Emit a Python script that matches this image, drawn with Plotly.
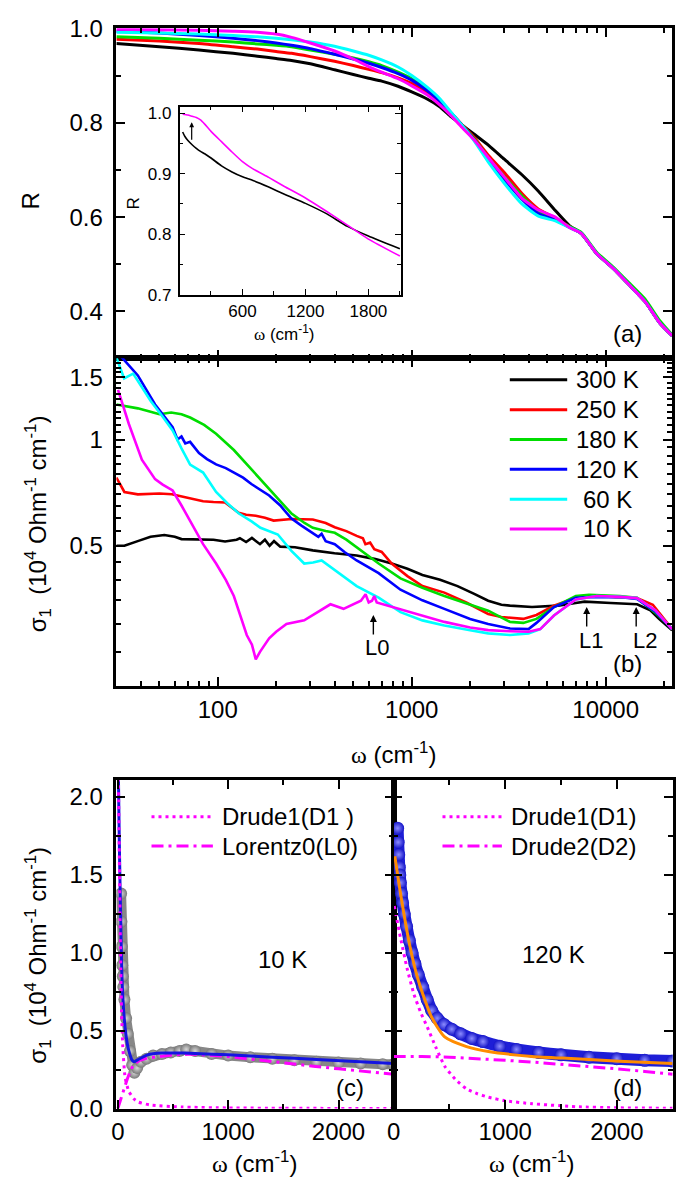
import numpy as np
import plotly.graph_objects as go

FONT = "Liberation Sans"
W, H = 683, 1192

# ---------------- (a) reflectivity, common frequency grid (cm^-1) ----------------
w_R = [30, 50, 80, 120, 160, 200, 240, 300, 400, 500, 600, 700, 850, 1000, 1200, 1400,
       1600, 1800, 2100, 2500, 3000, 3700, 4500, 5500, 6500, 7500, 9000, 11000, 13500,
       16000, 19000, 22000]
R_300 = [0.969, 0.962, 0.955, 0.948, 0.942, 0.937, 0.933, 0.926, 0.913, 0.903, 0.895, 0.889,
         0.878, 0.866, 0.851, 0.834, 0.813, 0.797, 0.776, 0.752, 0.723, 0.69, 0.655, 0.614,
         0.582, 0.565, 0.522, 0.49, 0.452, 0.42, 0.375, 0.348]
R_250 = [0.978, 0.974, 0.969, 0.962, 0.957, 0.952, 0.948, 0.941, 0.931, 0.922, 0.914, 0.907,
         0.896, 0.884, 0.865, 0.843, 0.82, 0.798, 0.769, 0.73, 0.695, 0.65, 0.617, 0.598,
         0.58, 0.565, 0.522, 0.49, 0.452, 0.42, 0.375, 0.348]
R_180 = [0.983, 0.98, 0.976, 0.972, 0.968, 0.965, 0.962, 0.955, 0.946, 0.938, 0.93, 0.922,
         0.908, 0.894, 0.872, 0.846, 0.82, 0.797, 0.766, 0.724, 0.686, 0.645, 0.613, 0.596,
         0.58, 0.567, 0.525, 0.493, 0.456, 0.425, 0.38, 0.35]
R_120 = [0.995, 0.991, 0.986, 0.98, 0.975, 0.97, 0.965, 0.958, 0.946, 0.936, 0.927, 0.918,
         0.905, 0.891, 0.869, 0.846, 0.821, 0.797, 0.764, 0.72, 0.68, 0.638, 0.607, 0.594,
         0.578, 0.565, 0.522, 0.49, 0.452, 0.42, 0.375, 0.348]
R_60 = [0.993, 0.991, 0.989, 0.986, 0.983, 0.98, 0.977, 0.972, 0.963, 0.953, 0.944, 0.934,
        0.919, 0.901, 0.876, 0.851, 0.822, 0.797, 0.762, 0.715, 0.672, 0.628, 0.602, 0.592,
        0.578, 0.565, 0.522, 0.49, 0.452, 0.42, 0.375, 0.348]
R_10 = [0.999, 0.998, 0.997, 0.995, 0.993, 0.989, 0.982, 0.970, 0.953, 0.936, 0.920, 0.908,
        0.894, 0.879, 0.860, 0.838, 0.815, 0.792, 0.764, 0.725, 0.685, 0.64, 0.615, 0.60,
        0.578, 0.565, 0.522, 0.49, 0.452, 0.42, 0.375, 0.348]
INSET_MAX = 2100  # the inset shows the low-frequency part of 300 K and 10 K

# ---------------- (b) optical conductivity sigma_1 (10^4 Ohm^-1 cm^-1) ----------------
w_300 = [30, 33, 39, 45, 53, 60, 65, 80, 95, 109, 125, 130, 140, 150, 165, 175, 185, 195, 210,
         250, 309, 400, 520, 650, 788, 950, 1135, 1400, 1722, 2100, 2478, 2900, 3213, 4170,
         5690, 7000, 7780, 10620, 14520, 17000, 18830, 22000]
s_300 = [0.50, 0.50, 0.516, 0.53, 0.536, 0.53, 0.522, 0.52, 0.52, 0.514, 0.52, 0.525, 0.512,
         0.526, 0.505, 0.52, 0.50, 0.515, 0.497, 0.495, 0.485, 0.476, 0.469, 0.458, 0.445,
         0.43, 0.413, 0.40, 0.384, 0.365, 0.349, 0.34, 0.338, 0.335, 0.338, 0.344, 0.347,
         0.344, 0.341, 0.328, 0.31, 0.288]
w_250 = [30, 33, 38.7, 45, 50, 58, 65, 75, 84, 95, 109, 128, 140, 157, 175, 194, 240, 309,
         360, 401, 460, 520, 560, 577, 610, 641, 700, 788, 950, 1135, 1473, 1909, 2478, 2897,
         3760, 4395, 5410, 7013, 8500, 11000, 14500, 17500, 20000, 22000]
s_250 = [0.78, 0.71, 0.699, 0.70, 0.703, 0.70, 0.69, 0.675, 0.668, 0.665, 0.663, 0.62, 0.612,
         0.608, 0.60, 0.589, 0.595, 0.593, 0.58, 0.564, 0.55, 0.533, 0.525, 0.505, 0.51,
         0.489, 0.48, 0.445, 0.41, 0.384, 0.368, 0.345, 0.32, 0.314, 0.31, 0.318, 0.338,
         0.356, 0.36, 0.358, 0.355, 0.34, 0.31, 0.29]
w_180 = [30, 38.7, 45, 50, 57.5, 65, 72, 85, 98, 121, 150, 184, 210, 239, 280, 309, 360, 401,
         460, 520, 600, 675, 875, 1135, 1473, 2000, 2478, 3213, 3760, 4395, 5410, 7013, 8200,
         11800, 14500, 17870, 22000]
s_180 = [1.257, 1.226, 1.20, 1.18, 1.193, 1.18, 1.155, 1.10, 1.039, 0.934, 0.82, 0.724, 0.665,
         0.618, 0.58, 0.562, 0.55, 0.544, 0.52, 0.494, 0.468, 0.445, 0.404, 0.38, 0.36, 0.34,
         0.327, 0.304, 0.302, 0.31, 0.335, 0.36, 0.363, 0.36, 0.356, 0.324, 0.291]
w_120 = [30, 32, 38.7, 47.5, 58.5, 62, 65, 68, 72, 76, 80, 88, 98, 110, 121, 135, 149, 165,
         184, 210, 239, 270, 309, 330, 343, 360, 401, 450, 520, 600, 675, 875, 1135, 1473,
         2000, 2478, 3213, 4000, 4395, 5410, 7013, 9000, 12000, 14500, 18000, 22000]
s_120 = [1.75, 1.71, 1.52, 1.257, 1.084, 1.0, 1.02, 0.975, 0.985, 0.95, 0.915, 0.88, 0.85,
         0.83, 0.806, 0.78, 0.748, 0.72, 0.694, 0.65, 0.598, 0.57, 0.544, 0.53, 0.54, 0.515,
         0.505, 0.48, 0.454, 0.435, 0.418, 0.375, 0.35, 0.331, 0.31, 0.30, 0.291, 0.29, 0.302,
         0.335, 0.356, 0.358, 0.357, 0.353, 0.325, 0.29]
w_60 = [30, 32.9, 36.6, 45.2, 52, 58.5, 65, 72, 84, 98, 112, 128, 150, 166, 204, 239, 279,
        310, 343, 401, 520, 675, 875, 1135, 1473, 2000, 2478, 3213, 4000, 4600, 5410, 7013,
        9000, 12000, 14500, 18000, 22000]
s_60 = [1.71, 1.49, 1.538, 1.284, 1.16, 1.061, 0.944, 0.849, 0.806, 0.71, 0.66, 0.618, 0.585,
        0.562, 0.538, 0.484, 0.445, 0.448, 0.454, 0.426, 0.384, 0.356, 0.324, 0.307, 0.297,
        0.288, 0.282, 0.279, 0.282, 0.29, 0.317, 0.352, 0.36, 0.358, 0.355, 0.328, 0.29]
w_10 = [30.6, 34.8, 40.6, 47.5, 52, 58.5, 65, 72, 84, 98, 110, 121, 132, 141, 150, 157, 165,
        184, 200, 226, 279, 330, 381, 445, 500, 547, 578, 600, 624, 641, 660, 709, 875, 1135,
        1473, 2000, 2478, 3213, 4000, 4600, 5410, 7013, 9000, 12000, 14500, 18000, 22000]
s_10 = [1.383, 1.107, 0.877, 0.772, 0.745, 0.717, 0.65, 0.586, 0.505, 0.445, 0.40, 0.36, 0.31,
        0.279, 0.262, 0.238, 0.25, 0.273, 0.285, 0.30, 0.307, 0.325, 0.341, 0.331, 0.342,
        0.349, 0.364, 0.345, 0.349, 0.36, 0.345, 0.341, 0.331, 0.317, 0.304, 0.293, 0.288,
        0.286, 0.285, 0.29, 0.317, 0.352, 0.36, 0.358, 0.355, 0.328, 0.29]

# peak markers: (label, frequency, arrow tip sigma)
peaks = [("L0", 634, 0.318), ("L1", 7980, 0.335), ("L2", 14360, 0.335)]

# ---------------- (c) 10 K data and fit components ----------------
c_w = [30, 33, 36, 40, 45, 50, 60, 75, 90, 110, 130, 150, 175, 210, 260, 320, 400, 480, 560,
       620, 700, 850, 1000, 1200, 1400, 1600, 1800, 2000, 2200, 2400, 2500]
c_s = [1.38, 1.2, 1.04, 0.92, 0.85, 0.78, 0.70, 0.58, 0.48, 0.37, 0.28, 0.23, 0.26, 0.30, 0.32,
       0.34, 0.35, 0.36, 0.37, 0.38, 0.37, 0.35, 0.34, 0.33, 0.32, 0.31, 0.30, 0.295, 0.29,
       0.285, 0.285]
c_fit_w = [3, 8, 14, 20, 27, 34, 45, 66, 85, 106, 130, 150, 185, 270, 400, 600, 1000, 1400,
           1800, 2500]
c_fit_s = [2.3, 2.0, 1.7, 1.45, 1.2, 0.94, 0.72, 0.52, 0.42, 0.356, 0.31, 0.30, 0.315, 0.345,
           0.356, 0.356, 0.345, 0.33, 0.315, 0.29]
c_d1_w = [3, 8, 14, 20, 27, 34, 45, 66, 100, 150, 185, 300, 580, 1000, 1500, 2500]
c_d1_s = [2.3, 1.95, 1.6, 1.25, 0.9, 0.62, 0.4, 0.2, 0.11, 0.06, 0.042, 0.022, 0.01, 0.004,
          0.002, 0.0]
c_l0_w = [0, 27, 60, 86, 115, 145, 200, 270, 383, 500, 661, 800, 978, 1200, 1375, 1600, 1771,
          2000, 2200, 2500]
c_l0_s = [0.0, 0.063, 0.14, 0.19, 0.245, 0.285, 0.31, 0.325, 0.335, 0.345, 0.35, 0.345, 0.335,
          0.318, 0.303, 0.288, 0.272, 0.255, 0.24, 0.22]

# ---------------- (d) 120 K data and fit components ----------------
d_w = [35, 40, 45, 50, 55, 60, 70, 80, 95, 115, 140, 165, 190, 220, 260, 300, 340, 390, 450,
       520, 600, 700, 800, 950, 1100, 1300, 1500, 1750, 2000, 2250, 2500]
d_s = [1.80, 1.71, 1.63, 1.55, 1.50, 1.45, 1.38, 1.32, 1.25, 1.17, 1.08, 1.0, 0.93, 0.86, 0.78,
       0.70, 0.63, 0.58, 0.54, 0.51, 0.48, 0.45, 0.43, 0.40, 0.38, 0.36, 0.345, 0.33, 0.32,
       0.31, 0.305]
d_fit_w = [10, 66, 144, 223, 340, 457, 653, 849, 1240, 1631, 2022, 2500]
d_fit_s = [1.62, 1.36, 1.047, 0.817, 0.586, 0.46, 0.398, 0.366, 0.335, 0.32, 0.303, 0.289]
d_d1_w = [5, 60, 120, 182, 240, 301, 380, 457, 550, 653, 750, 849, 1000, 1240, 1631, 2000, 2500]
d_d1_s = [1.3, 1.1, 0.9, 0.733, 0.62, 0.523, 0.39, 0.272, 0.19, 0.126, 0.095, 0.073, 0.05,
          0.031, 0.012, 0.005, 0.002]
d_d2_w = [0, 250, 500, 750, 1000, 1250, 1500, 1750, 2000, 2250, 2500]
d_d2_s = [0.335, 0.335, 0.33, 0.322, 0.31, 0.298, 0.285, 0.27, 0.255, 0.238, 0.22]

temps = ["300 K", "250 K", "180 K", "120 K", "60 K", "10 K"]
colors = ["#000000", "#ff0000", "#00dd00", "#0000ff", "#00ffff", "#ff00ff"]
MAG = "#ff00ff"
logx_ticks = [100, 1000, 10000]


def fx(px):
    return px / W


def fy(py):
    return 1 - py / H


fig = go.Figure()

# (a) reflectivity
for R, c in zip([R_300, R_250, R_180, R_120, R_60, R_10], colors):
    fig.add_trace(go.Scatter(x=w_R, y=R, xaxis="x", yaxis="y", mode="lines",
                             line=dict(color=c, width=3, shape="spline", smoothing=0.5)))

# inset: 300 K and 10 K below INSET_MAX on a linear axis
for R, c in [(R_300, "#000000"), (R_10, MAG)]:
    xs = [w for w in w_R if w <= INSET_MAX]
    fig.add_trace(go.Scatter(x=xs, y=R[:len(xs)], xaxis="x3", yaxis="y3", mode="lines",
                             line=dict(color=c, width=1.6, shape="spline", smoothing=0.5)))

# (b) conductivity
for (w, s), c in zip([(w_300, s_300), (w_250, s_250), (w_180, s_180), (w_120, s_120),
                      (w_60, s_60), (w_10, s_10)], colors):
    fig.add_trace(go.Scatter(x=w, y=s, xaxis="x2", yaxis="y2", mode="lines",
                             line=dict(color=c, width=2.6)))

# (c) 10 K
fig.add_trace(go.Scatter(x=c_w, y=c_s, xaxis="x4", yaxis="y4", mode="lines+markers",
                         line=dict(color="rgb(135,135,135)", width=10),
                         marker=dict(size=12, color="rgb(120,120,120)",
                                     gradient=dict(type="radial", color="rgb(215,215,215)"))))
fig.add_trace(go.Scatter(x=c_l0_w, y=c_l0_s, xaxis="x4", yaxis="y4", mode="lines",
                         line=dict(color=MAG, width=3, dash="12px,5px,3px,5px")))
fig.add_trace(go.Scatter(x=c_fit_w, y=c_fit_s, xaxis="x4", yaxis="y4", mode="lines",
                         line=dict(color="rgb(20,20,225)", width=3, shape="spline", smoothing=0.5)))
fig.add_trace(go.Scatter(x=c_d1_w, y=c_d1_s, xaxis="x4", yaxis="y4", mode="lines",
                         line=dict(color=MAG, width=3, dash="3px,4px", shape="spline", smoothing=0.5)))

# (d) 120 K
fig.add_trace(go.Scatter(x=d_w, y=d_s, xaxis="x5", yaxis="y5", mode="lines+markers",
                         line=dict(color="rgb(30,30,215)", width=12, shape="spline", smoothing=0.5),
                         marker=dict(size=13, color="rgb(20,20,200)",
                                     gradient=dict(type="radial", color="rgb(140,140,255)"))))
fig.add_trace(go.Scatter(x=d_d1_w, y=d_d1_s, xaxis="x5", yaxis="y5", mode="lines",
                         line=dict(color=MAG, width=3, dash="3px,4px", shape="spline", smoothing=0.5)))
fig.add_trace(go.Scatter(x=d_d2_w, y=d_d2_s, xaxis="x5", yaxis="y5", mode="lines",
                         line=dict(color=MAG, width=3, dash="12px,5px,3px,5px")))
fig.add_trace(go.Scatter(x=d_fit_w, y=d_fit_s, xaxis="x5", yaxis="y5", mode="lines",
                         line=dict(color="rgb(255,140,0)", width=3, shape="spline", smoothing=0.6)))


def axis(**kw):
    base = dict(showline=True, linecolor="black", linewidth=2.5, mirror="ticks",
                ticks="inside", ticklen=9, tickwidth=2, tickcolor="black",
                showgrid=False, zeroline=False,
                tickfont=dict(family=FONT, size=24, color="black"))
    base.update(kw)
    return base


MINOR = dict(ticks="inside", ticklen=5, tickwidth=1.5, tickcolor="black")
LOGX = dict(type="log", range=[np.log10(30), np.log10(22000)],
            tickvals=logx_ticks, ticktext=[str(v) for v in logx_ticks],
            minor=dict(dtick="D1", **MINOR))

sig_minor = [round(v, 2) for v in np.arange(0.2, 1.7, 0.05) if round(v, 2) not in (0.5, 1.0, 1.5)]

fig.update_layout(
    width=W, height=H, margin=dict(l=0, r=0, t=0, b=0),
    paper_bgcolor="white", plot_bgcolor="white", showlegend=False,
    xaxis=axis(domain=[fx(110.5), fx(672)], anchor="y", showticklabels=False, **LOGX),
    yaxis=axis(domain=[fy(353), fy(15.5)], anchor="x", range=[0.3, 1.0015],
               tickvals=[0.4, 0.6, 0.8, 1.0], ticktext=["0.4", "0.6", "0.8", "1.0"],
               ticklabelstandoff=6, minor=dict(tickvals=[0.5, 0.7, 0.9], **MINOR)),
    xaxis2=axis(domain=[fx(110.5), fx(672)], anchor="y2", **LOGX),
    yaxis2=axis(domain=[fy(688), fy(353)], anchor="x2", type="log",
                range=[np.log10(0.2), np.log10(1.7)],
                tickvals=[0.5, 1, 1.5], ticktext=["0.5", "1", "1.5"], ticklabelstandoff=6,
                minor=dict(tickvals=sig_minor, **MINOR)),
    xaxis3=axis(domain=[fx(174.3), fx(398)], anchor="y3", range=[0, 2110], linewidth=1.5,
                tickwidth=1.3, ticklen=6, tickvals=[600, 1200, 1800],
                tickfont=dict(family=FONT, size=17, color="black"),
                minor=dict(tickvals=[300, 900, 1500, 2100], ticks="inside", ticklen=4,
                           tickwidth=1, tickcolor="black")),
    yaxis3=axis(domain=[fy(288), fy(95.7)], anchor="x3", range=[0.7, 1.011], linewidth=1.5,
                tickwidth=1.3, ticklen=6, tickvals=[0.7, 0.8, 0.9, 1.0],
                ticktext=["0.7", "0.8", "0.9", "1.0"], ticklabelstandoff=3,
                tickfont=dict(family=FONT, size=17, color="black"),
                minor=dict(tickvals=[0.75, 0.85, 0.95], ticks="inside", ticklen=4,
                           tickwidth=1, tickcolor="black")),
    xaxis4=axis(domain=[fx(110.5), fx(390.7)], anchor="y4", range=[-13, 2500],
                tickvals=[0, 1000, 2000], minor=dict(tickvals=[500, 1500], **MINOR)),
    yaxis4=axis(domain=[fy(1120), fy(784)], anchor="x4", range=[0, 2.11],
                tickvals=[0, 0.5, 1, 1.5, 2], ticktext=["0.0", "0.5", "1.0", "1.5", "2.0"],
                ticklabelstandoff=6,
                minor=dict(tickvals=[0.25, 0.75, 1.25, 1.75], **MINOR)),
    xaxis5=axis(domain=[fx(390.7), fx(672.5)], anchor="y5", range=[0, 2500],
                tickvals=[0, 1000, 2000], minor=dict(tickvals=[500, 1500], **MINOR)),
    yaxis5=axis(domain=[fy(1120), fy(784)], anchor="x5", range=[0, 2.11],
                tickvals=[0, 0.5, 1, 1.5, 2], showticklabels=False,
                minor=dict(tickvals=[0.25, 0.75, 1.25, 1.75], **MINOR)),
)

anns = []
shapes = []


def text(t, px, py, size=24, **kw):
    d = dict(text=t, x=fx(px), y=fy(py), xref="paper", yref="paper", showarrow=False,
             font=dict(family=FONT, size=size, color="black"),
             xanchor="center", yanchor="middle")
    d.update(kw)
    anns.append(d)


OMEGA = "<span style=\"font-family:'Liberation Serif'\">ω</span> (cm<sup>-1</sup>)"
SIGMA = "σ<sub>1</sub>  (10<sup>4</sup> Ohm<sup>-1</sup> cm<sup>-1</sup>)"

text("R", 24, 192, textangle=-90)
text(SIGMA, 31, 522, textangle=-90)
text(SIGMA, 31, 963, textangle=-90)
text(OMEGA, 391, 757)
text(OMEGA, 250, 1175)
text(OMEGA, 530, 1175)
text(OMEGA, 280, 327, size=17)
text("R", 128, 195, size=17, textangle=-90)
text("(a)", 627, 328)
text("(b)", 627, 665)
text("(c)", 347, 1098)
text("(d)", 627, 1098)
text("10 K", 278.5, 968)
text("120 K", 552.6, 963)

# (b) legend
for i, (t, c) in enumerate(zip(temps, colors)):
    yy = 375 + i * 30.5
    shapes.append(dict(type="line", xref="paper", yref="paper", x0=fx(508), x1=fx(566),
                       y0=fy(yy), y1=fy(yy), line=dict(color=c, width=3)))
    text(t, 606.6, yy)

# (c), (d) legends
DOT = "3px,4px"
DASHDOT = "12px,5px,3px,5px"
for x0, x1, tx, labels in [(146, 208, 215, ["Drude1(D1 )", "Lorentz0(L0)"]),
                           (440, 500, 507.5, ["Drude1(D1)", "Drude2(D2)"])]:
    for j, (lab, dash) in enumerate(zip(labels, [DOT, DASHDOT])):
        yy = 821.7 + j * 30
        shapes.append(dict(type="line", xref="paper", yref="paper", x0=fx(x0), x1=fx(x1),
                           y0=fy(yy), y1=fy(yy), line=dict(color=MAG, width=3, dash=dash)))
        text(lab, tx, yy, xanchor="left")

# (b) peak arrows and labels
for lab, wpk, tip in peaks:
    anns.append(dict(x=np.log10(wpk), y=np.log10(tip), xref="x2", yref="y2", text="",
                     showarrow=True, ax=0, ay=21, arrowhead=2, arrowsize=1,
                     arrowwidth=1.4, arrowcolor="black"))
    anns.append(dict(x=np.log10(wpk), y=np.log10(tip), xref="x2", yref="y2", text=lab,
                     showarrow=False, yshift=-33, xshift=4 if lab != "L2" else 9,
                     font=dict(family=FONT, size=22, color="black")))

# inset arrow
anns.append(dict(x=116, y=0.985, xref="x3", yref="y3", text="", showarrow=True, ax=0, ay=19,
                 arrowhead=2, arrowsize=0.8, arrowwidth=1.2, arrowcolor="black"))

fig.update_layout(annotations=anns, shapes=shapes)
fig.write_html("out.html")
